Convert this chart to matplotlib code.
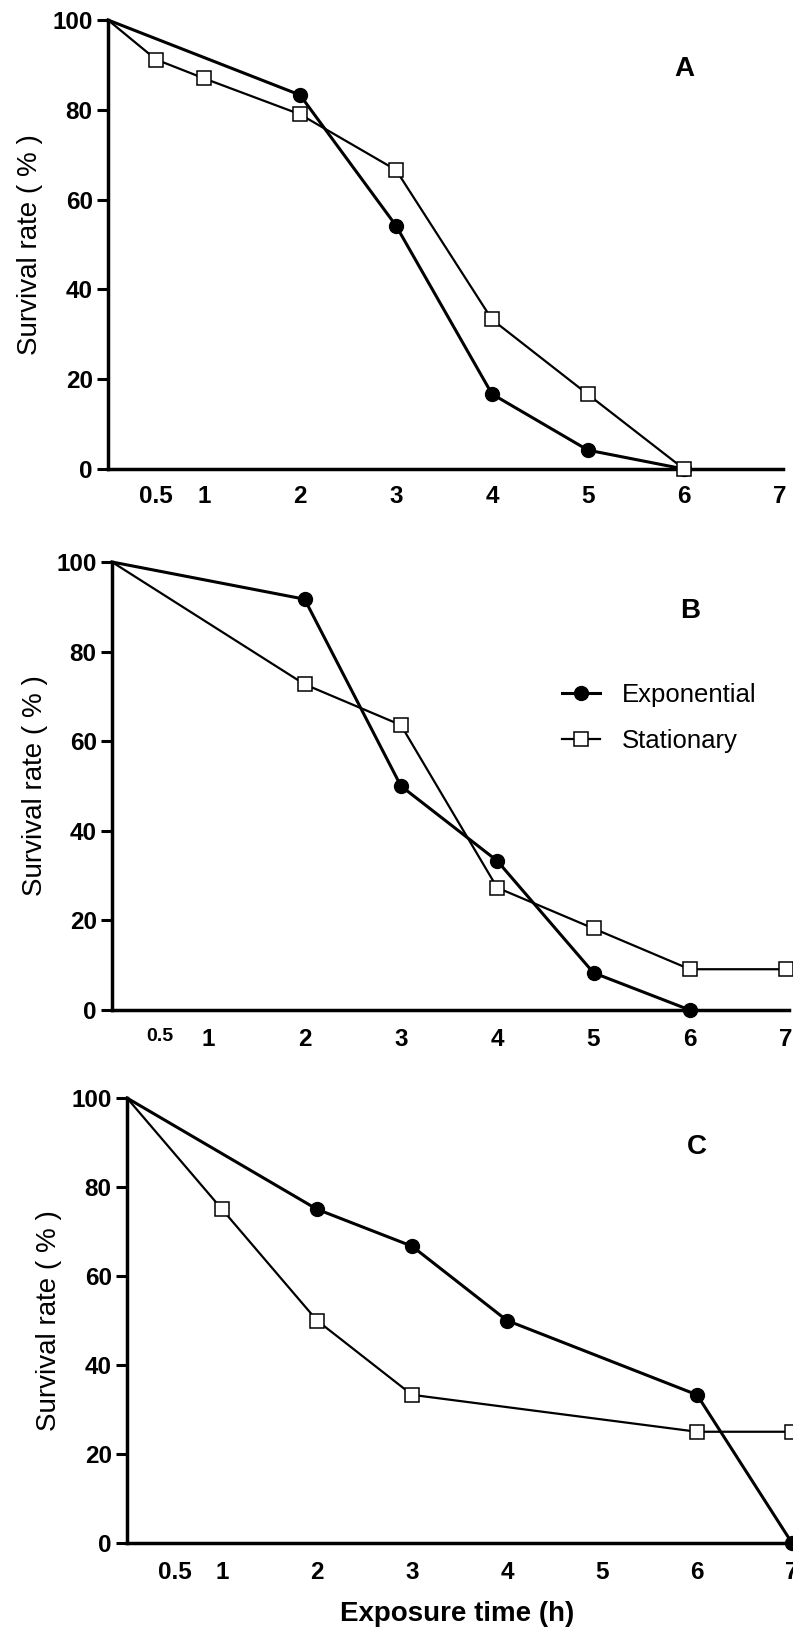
import matplotlib
matplotlib.use("Agg")
import matplotlib.pyplot as plt

plt.rcParams['font.family'] = ['Liberation Sans', 'DejaVu Sans']

# exposure times (h) and survival rates (%) for each panel
time_a_exp = [0, 2, 3, 4, 5, 6]
surv_a_exp = [100, 83.3, 54.2, 16.7, 4.2, 0]
time_a_sta = [0, 0.5, 1, 2, 3, 4, 5, 6]
surv_a_sta = [100, 91.2, 87.0, 79.0, 66.6, 33.3, 16.6, 0]

time_b_exp = [0, 2, 3, 4, 5, 6]
surv_b_exp = [100, 91.7, 50.0, 33.3, 8.3, 0]
time_b_sta = [0, 2, 3, 4, 5, 6, 7]
surv_b_sta = [100, 72.7, 63.6, 27.3, 18.2, 9.1, 9.1]

time_c_exp = [0, 2, 3, 4, 6, 7]
surv_c_exp = [100, 75.0, 66.7, 50.0, 33.3, 0]
time_c_sta = [0, 1, 2, 3, 6, 7]
surv_c_sta = [100, 75.0, 50.0, 33.3, 25.0, 25.0]

x_ticks = [0.5, 1, 2, 3, 4, 5, 6, 7]
x_labels = ['0.5', '1', '2', '3', '4', '5', '6', '7']
y_ticks = [0, 20, 40, 60, 80, 100]
panel_names = ['A', 'B', 'C']

W, H = 793, 1629
fig = plt.figure(figsize=(W / 100, H / 100), dpi=100)

# panel boxes in pixels: x of zero, px per hour, top (100 %), bottom (0 %)
boxes = [(108, 96.0, 20, 469), (112, 96.3, 562, 1010), (127, 95.0, 1098, 1543)]
ylab_x = [30, 35, 49]
xpad = [11.5, 13, 13]
XMAX = 7.03

data = [(time_a_exp, surv_a_exp, time_a_sta, surv_a_sta),
        (time_b_exp, surv_b_exp, time_b_sta, surv_b_sta),
        (time_c_exp, surv_c_exp, time_c_sta, surv_c_sta)]

for i, (x0, ppu, top, bot) in enumerate(boxes):
    w = ppu * XMAX
    ax = fig.add_axes([x0 / W, 1 - bot / H, w / W, (bot - top) / H])
    te, se, ts, ss = data[i]
    ax.plot(te, se, '-', color='black', lw=2.2, marker='o', ms=10,
            mfc='black', mec='black', markevery=list(range(1, len(te))),
            clip_on=False, zorder=3, label='Exponential')
    ax.plot(ts, ss, '-', color='black', lw=1.6, marker='s', ms=10,
            mfc='white', mec='black', mew=1.1,
            markevery=list(range(1, len(ts))),
            clip_on=False, zorder=4, label='Stationary')
    ax.set_xlim(0, XMAX)
    ax.set_ylim(0, 100)
    for s in ['top', 'right']:
        ax.spines[s].set_visible(False)
    for s in ['left', 'bottom']:
        ax.spines[s].set_linewidth(2.5)
    ax.set_xticks(x_ticks)
    ax.set_xticklabels(x_labels, fontsize=17.5, fontweight='bold')
    ax.set_yticks(y_ticks)
    ax.set_yticklabels([str(v) for v in y_ticks], fontsize=17.5,
                       fontweight='bold')
    ax.tick_params(axis='x', length=0, pad=xpad[i])
    ax.tick_params(axis='y', length=8, width=2.2, pad=3, direction='out')
    if i == 1:
        ax.get_xticklabels()[0].set_fontsize(14)
    ax.set_ylabel('Survival rate ( % )', fontsize=20)
    ax.yaxis.label.set_va('center')
    ax.yaxis.set_label_coords((ylab_x[i] - x0) / w, 0.5)
    ax.text(6, 89, panel_names[i], fontsize=20, fontweight='bold',
            ha='center', va='center')
    if i == 1:
        ax.legend(loc='upper left', bbox_to_anchor=(4.67, 73.0),
                  bbox_transform=ax.transData, frameon=False,
                  fontsize=18.5, borderpad=0, borderaxespad=0,
                  handlelength=1.5, handletextpad=0.85, labelspacing=0.85)
    if i == 2:
        ax.set_xlabel('Exposure time (h)', fontsize=20, fontweight='bold')
        ax.xaxis.set_label_coords((457 - x0) / w, -(1614 - bot) / (bot - top))
        ax.xaxis.label.set_va('center')

fig.savefig('out.png', dpi=100)
